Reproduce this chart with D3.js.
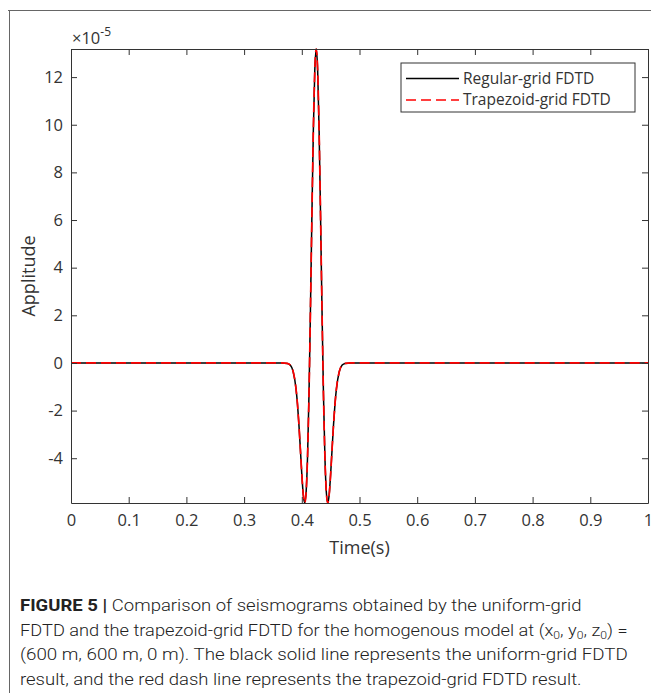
<!DOCTYPE html>
<html><head><meta charset="utf-8">
<script src="https://cdn.jsdelivr.net/npm/d3@7"></script>
<style>body{margin:0;background:#fff}svg{display:block}</style>
</head><body>
<svg id="c" width="651" height="693"></svg>
<script>
// ---- data (amplitudes in units of 1e-5) ----
const timeS = [0, 0.365, 0.375, 0.380, 0.385, 0.390, 0.3925, 0.395, 0.3975, 0.400, 0.4025, 0.405, 0.4075, 0.410, 0.4125, 0.415, 0.4175, 0.420, 0.4225, 0.425,
  0.4275, 0.430, 0.4325, 0.435, 0.4375, 0.440, 0.4425, 0.445, 0.4475, 0.450, 0.4525, 0.455, 0.4575, 0.460, 0.465, 0.470, 0.475, 0.485, 1];
const regularAmp = [0, 0, -0.02, -0.09, -0.36, -1.09, -1.73, -2.59, -3.61, -4.66, -5.52, -5.88, -5.42, -3.90, -1.27, 2.26, 6.17, 9.75, 12.27, 13.18,
  12.27, 9.75, 6.17, 2.26, -1.27, -3.90, -5.42, -5.88, -5.52, -4.66, -3.61, -2.59, -1.73, -1.09, -0.36, -0.09, -0.02, 0, 0];
const trapezoidAmp = [0, 0, -0.02, -0.09, -0.36, -1.09, -1.73, -2.59, -3.61, -4.66, -5.52, -5.88, -5.42, -3.90, -1.27, 2.26, 6.17, 9.75, 12.27, 13.18,
  12.27, 9.75, 6.17, 2.26, -1.27, -3.90, -5.42, -5.88, -5.52, -4.66, -3.61, -2.59, -1.73, -1.09, -0.36, -0.09, -0.02, 0, 0];
const xTicks = [0, 0.1, 0.2, 0.3, 0.4, 0.5, 0.6, 0.7, 0.8, 0.9, 1];
const yTicks = [-4, -2, 0, 2, 4, 6, 8, 10, 12];
const seriesNames = ["Regular-grid FDTD", "Trapezoid-grid FDTD"];
const xLabel = "Time(s)", yLabel = "Applitude";

const svg = d3.select("#c");
const L = 71, R = 648, T = 49, B = 503;
const x = d3.scaleLinear([0, 1], [L, R]);
const y = d3.scaleLinear([d3.min(regularAmp), d3.max(regularAmp)], [B, T]);
const axCol = "#333";
const tf = "'Open Sans', sans-serif";

// figure frame
svg.append("line").attr("x1", 8).attr("x2", 651).attr("y1", 10.5).attr("y2", 10.5).attr("stroke", "#666");
svg.append("line").attr("x1", 9.5).attr("x2", 9.5).attr("y1", 10).attr("y2", 693).attr("stroke", "#666");

// lines
const pts = s => timeS.map((t, i) => [t, s[i]]);
const line = d3.line().x(d => x(d[0])).y(d => y(d[1])).curve(d3.curveMonotoneX);
svg.append("path").attr("d", line(pts(regularAmp))).attr("fill", "none").attr("stroke", "#000").attr("stroke-width", 1.5);
svg.append("path").attr("d", line(pts(trapezoidAmp))).attr("fill", "none").attr("stroke", "#f00").attr("stroke-width", 1.7).attr("stroke-dasharray", "10,5");

function styleAxis(g) {
  g.selectAll("path,line").attr("stroke", axCol).attr("stroke-width", 1);
  g.selectAll("text").attr("fill", axCol).style("font-family", tf).style("font-size", "16.5px");
}
const fmt = d => String(d);
svg.append("g").attr("transform", `translate(0,${B})`)
  .call(d3.axisBottom(x).tickValues(xTicks).tickFormat(fmt).tickSize(-6).tickSizeOuter(0).tickPadding(11)).call(styleAxis);
svg.append("g").attr("transform", `translate(0,${T})`)
  .call(d3.axisTop(x).tickValues(xTicks).tickFormat("").tickSize(-6).tickSizeOuter(0)).call(styleAxis);
svg.append("g").attr("transform", `translate(${L},0)`)
  .call(d3.axisLeft(y).tickValues(yTicks).tickFormat(fmt).tickSize(-6).tickSizeOuter(0).tickPadding(8)).call(styleAxis);
svg.append("g").attr("transform", `translate(${R},0)`)
  .call(d3.axisRight(y).tickValues(yTicks).tickFormat("").tickSize(-6).tickSizeOuter(0)).call(styleAxis);

// exponent
const ex = svg.append("text").attr("x", 72).attr("y", 44).attr("fill", axCol).style("font-family", tf).style("font-size", "16.5px");
ex.append("tspan").text("×10");
ex.append("tspan").attr("dy", -8).style("font-size", "12px").text("-5");

// axis labels
svg.append("text").attr("x", (L + R) / 2).attr("y", 554).attr("text-anchor", "middle").attr("fill", axCol)
  .style("font-family", tf).style("font-size", "18px").text(xLabel);
svg.append("text").attr("transform", `translate(35,${(T + B) / 2}) rotate(-90)`).attr("text-anchor", "middle").attr("fill", axCol)
  .style("font-family", tf).style("font-size", "18px").text(yLabel);

// legend
const lg = svg.append("g");
lg.append("rect").attr("x", 401).attr("y", 63).attr("width", 234).attr("height", 49).attr("fill", "#fff").attr("stroke", axCol);
lg.append("line").attr("x1", 406).attr("x2", 459).attr("y1", 78.5).attr("y2", 78.5).attr("stroke", "#000").attr("stroke-width", 1.5);
lg.append("line").attr("x1", 406).attr("x2", 459).attr("y1", 100).attr("y2", 100).attr("stroke", "#f00").attr("stroke-width", 1.7).attr("stroke-dasharray", "10,5");
seriesNames.forEach((n, i) => {
  lg.append("text").attr("x", 463).attr("y", 78.5 + i * 21.5).attr("dy", "0.35em").attr("fill", axCol)
    .style("font-family", tf).style("font-size", "15.5px").text(n);
});

// caption
const cf = "Roboto, sans-serif";
const capLines = [
  [["b", "FIGURE 5 | "], ["n", "Comparison of seismograms obtained by the uniform-grid"]],
  [["n", "FDTD and the trapezoid-grid FDTD for the homogenous model at (x"], ["s", "0"], ["n", ", y"], ["s", "0"], ["n", ", z"], ["s", "0"], ["n", ") ="]],
  [["n", "(600 m, 600 m, 0 m). The black solid line represents the uniform-grid FDTD"]],
  [["n", "result, and the red dash line represents the trapezoid-grid FDTD result."]]
];
const capW = [562, 608, 608, 562];
capLines.forEach((parts, i) => {
  const t = svg.append("text").attr("x", 0).attr("y", 0).attr("fill", "#222")
    .style("font-family", cf).style("font-size", "16.5px").style("font-weight", 300);
  parts.forEach(([k, s], j) => {
    const sp = t.append("tspan").text(s);
    if (k === "b") sp.style("font-weight", 700);
    if (k === "s") sp.style("font-size", "11px").attr("dy", 3);
    const prev = parts[j - 1];
    if (prev && prev[0] === "s" && k !== "s") sp.attr("dy", -3);
  });
  const w = t.node().getComputedTextLength();
  t.attr("transform", `translate(20,${611 + i * 24.7}) scale(${capW[i] / w},1)`);
});
</script>
</body></html>
